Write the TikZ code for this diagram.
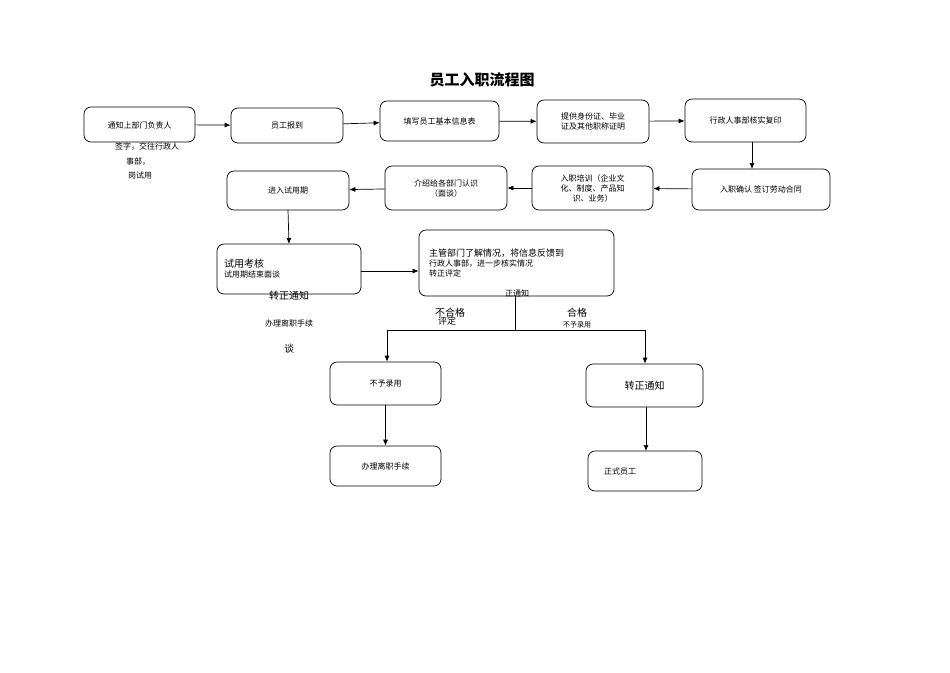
\documentclass[tikz,border=0pt]{standalone}
\usepackage{fontspec}
\setmainfont{Noto Sans CJK SC}
\usetikzlibrary{arrows.meta}
\begin{document}
\begin{tikzpicture}[x=1pt,y=-1pt,
 bx/.style={draw,rounded corners=7pt,line width=0.7pt,font=\fontsize{8}{10}\selectfont,align=center,inner sep=0pt},
 lb/.style={font=\fontsize{8}{10}\selectfont,align=center,inner sep=0pt},
 ar/.style={-{Latex[length=6pt,width=5pt]},line width=0.7pt}]
\useasboundingbox (0,0) rectangle (950,672);
\node[font=\bfseries\fontsize{15}{18}\selectfont] (t) at (482,80) {员工入职流程图};
\newcommand\bxn[6]{\node[bx,minimum width=#4-#2,minimum height=#5-#3] (#1) at ({(#2+#4)/2},{(#3+#5)/2}) {#6};}
\bxn{b1}{84}{107}{195}{142}{\raisebox{-8pt}{通知上部门负责人}}
\bxn{b2}{231}{108}{343}{143}{员工报到}
\bxn{b3}{380}{101}{499}{141}{填写员工基本信息表}
\bxn{b4}{537}{100}{649}{143}{提供身份证、毕业\\证及其他职称证明}
\bxn{b5}{685}{99}{806}{142}{行政人事部核实复印}
\bxn{b6}{692}{169}{830}{210}{入职确认 签订劳动合同}
\bxn{b7}{532}{166}{653}{210}{入职培训（企业文\\化、制度、产品知\\识、业务）}
\bxn{b8}{385}{166}{507}{210}{介绍给各部门认识\\（面谈）}
\bxn{b9}{227}{171}{349}{210}{进入试用期}
\node[bx,minimum width=144,minimum height=50,align=left,text width=130] (b10) at (289,269) {\raisebox{8pt}{\parbox{130pt}{{\fontsize{10}{11}\selectfont 试用考核}\\试用期结束面谈}}};
\node[bx,minimum width=195,minimum height=66] (b11) at (516.5,263) {\raisebox{8pt}{\parbox{175pt}{{\fontsize{9}{11}\selectfont 主管部门了解情况，将信息反馈到}\\行政人事部，进一步核实情况\\转正评定}}};
\bxn{b12}{330}{362}{441}{405}{不予录用}
\bxn{b13}{586}{364}{703}{407}{{\fontsize{10}{12}\selectfont 转正通知}}
\bxn{b14}{330}{446}{441}{486}{办理离职手续}
\bxn{b15}{588}{451}{702}{491}{\hspace*{-50pt}正式员工}
\node[lb] (l1) at (147,147) {签字，交往行政人};
\node[lb] (l2) at (138,162) {事部，};
\node[lb] (l3) at (140,175) {岗试用};
\node[lb,font=\fontsize{10}{12}\selectfont] (l4) at (289,296) {转正通知};
\node[lb] (l5) at (289,323) {办理离职手续};
\node[lb,font=\fontsize{10}{12}\selectfont] (l6) at (289,349) {谈};
\node[lb] (l7) at (517,293) {正通知};
\node[lb,font=\fontsize{10}{12}\selectfont] (l8) at (450,313) {不合格};
\node[lb,font=\fontsize{9}{10}\selectfont] (l9) at (447,321) {评定};
\node[lb,font=\fontsize{10}{12}\selectfont] (l10) at (577,313) {合格};
\node[lb,font=\fontsize{7}{8}\selectfont] (l11) at (577,325) {不予录用};
\draw[ar] (b1) -- (b2);
\draw[ar] (b2) -- (b3);
\draw[ar] (b3) -- (b4);
\draw[ar] (b4) -- (b5);
\draw[ar] (b5.south) ++(-54,0) coordinate (c1) (752,142) -- (752,169);
\draw[ar] (b6) -- (b7);
\draw[ar] (b7) -- (b8);
\draw[ar] (b8) -- (b9);
\draw[ar] (288,210) -- (289,244);
\draw[ar] (b10.east |- 0,271) -- (b11.west |- 0,271);
\coordinate (s) at (515,330);
\draw[line width=0.7pt] (515,296) -- (s);
\draw[line width=0.7pt] (387,330) -- (645,330);
\draw[ar] (387,330) -- (b12.north -| 387,0);
\draw[ar] (645,330) -- (b13.north -| 645,0);
\draw[ar] (b12) -- (b14);
\draw[ar] (646,407) -- (646,451);
\end{tikzpicture}
\end{document}
